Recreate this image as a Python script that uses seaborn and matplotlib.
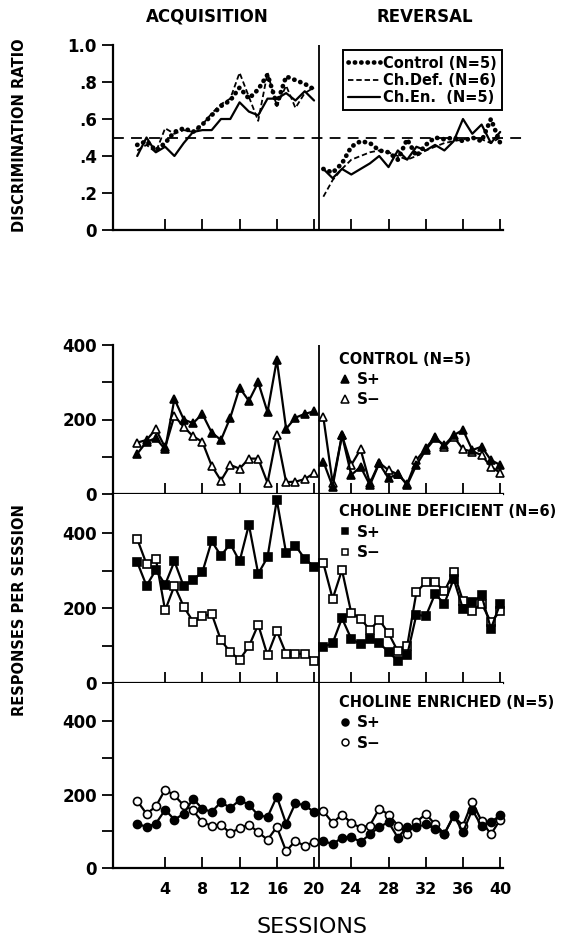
import pandas as pd
import seaborn as sns
import matplotlib.pyplot as plt
from matplotlib.lines import Line2D

# sessions: 1-20 acquisition, 21-40 reversal
sessions = list(range(1, 41))

# discrimination ratio (top panel)
ratio_control = [0.46, 0.48, 0.43, 0.47, 0.53, 0.55, 0.53, 0.57, 0.62, 0.67,
                 0.70, 0.77, 0.71, 0.76, 0.84, 0.68, 0.83, 0.81, 0.79, 0.76,
                 0.33, 0.31, 0.36, 0.45, 0.48, 0.47, 0.43, 0.42, 0.38, 0.49,
                 0.40, 0.46, 0.50, 0.49, 0.50, 0.48, 0.50, 0.48, 0.60, 0.47]
ratio_def = [0.43, 0.46, 0.42, 0.55, 0.52, 0.54, 0.53, 0.57, 0.63, 0.68,
             0.71, 0.85, 0.72, 0.59, 0.85, 0.67, 0.78, 0.66, 0.74, 0.77,
             0.18, 0.27, 0.33, 0.38, 0.40, 0.42, 0.43, 0.42, 0.40, 0.38,
             0.40, 0.43, 0.45, 0.47, 0.48, 0.49, 0.50, 0.49, 0.47, 0.50]
ratio_enr = [0.40, 0.50, 0.42, 0.45, 0.40, 0.47, 0.53, 0.54, 0.54, 0.60,
             0.60, 0.69, 0.64, 0.62, 0.71, 0.71, 0.74, 0.70, 0.75, 0.70,
             0.33, 0.28, 0.33, 0.30, 0.33, 0.36, 0.40, 0.34, 0.43, 0.38,
             0.45, 0.43, 0.46, 0.43, 0.48, 0.60, 0.52, 0.57, 0.47, 0.53]

# responses per session
control_splus = [108, 140, 150, 120, 255, 200, 190, 215, 165, 145,
                 205, 285, 250, 300, 220, 360, 175, 205, 215, 222,
                 87, 20, 158, 51, 73, 24, 82, 42, 55, 24,
                 78, 118, 149, 131, 158, 172, 118, 127, 91, 78]
control_sminus = [138, 145, 174, 125, 210, 180, 155, 140, 76, 36,
                  78, 68, 95, 95, 30, 158, 32, 33, 40, 56,
                  206, 29, 158, 78, 120, 29, 84, 64, 53, 27,
                  91, 123, 154, 127, 154, 120, 114, 105, 73, 57]
def_splus = [323, 260, 302, 263, 325, 258, 276, 296, 379, 340,
             372, 325, 423, 292, 336, 489, 347, 367, 332, 311,
             96, 107, 173, 118, 103, 118, 107, 83, 59, 74,
             183, 178, 238, 212, 278, 198, 216, 234, 145, 212]
def_sminus = [385, 318, 332, 194, 260, 204, 164, 178, 185, 114,
              83, 62, 98, 156, 74, 139, 78, 78, 78, 60,
              320, 225, 302, 187, 172, 142, 169, 133, 85, 98,
              243, 269, 269, 245, 296, 219, 192, 212, 163, 192]
enr_splus = [121, 112, 121, 159, 132, 148, 189, 162, 153, 180,
             164, 185, 173, 144, 139, 195, 121, 177, 171, 153,
             74, 65, 83, 85, 71, 92, 112, 125, 83, 112,
             112, 119, 107, 92, 144, 98, 159, 114, 125, 144]
enr_sminus = [183, 148, 168, 214, 198, 171, 157, 125, 115, 118,
              95, 109, 118, 98, 77, 112, 46, 74, 60, 71,
              155, 123, 146, 123, 110, 116, 162, 146, 116, 94,
              125, 148, 119, 94, 141, 116, 180, 128, 92, 132]

sns.set_theme(style="ticks")
plt.rcParams['font.family'] = ['DejaVu Sans']
plt.rcParams['font.weight'] = 'bold'
for key in ['text.color', 'axes.labelcolor', 'xtick.color', 'ytick.color', 'axes.edgecolor']:
    plt.rcParams[key] = 'black'

phase = ['acq' if s <= 20 else 'rev' for s in sessions]

fig = plt.figure(figsize=(5.85, 9.39), dpi=100)


def frame(top_px, bot_px):
    return [113 / 585, 1 - bot_px / 939, 390 / 585, (bot_px - top_px) / 939]


ax_top = fig.add_axes(frame(45, 230))
ax_c = fig.add_axes(frame(345, 494))
ax_d = fig.add_axes(frame(494, 683))
ax_e = fig.add_axes(frame(683, 868))

# top panel: discrimination ratio
line_styles = {
    'Control (N=5)': dict(linestyle=(0, (0.05, 1.3)), linewidth=3.4, dash_capstyle='round'),
    'Ch.Def. (N=6)': dict(linestyle=(0, (3, 1.6)), linewidth=1.3),
    'Ch.En.  (N=5)': dict(linestyle='-', linewidth=1.6),
}
ratios = {'Control (N=5)': ratio_control, 'Ch.Def. (N=6)': ratio_def, 'Ch.En.  (N=5)': ratio_enr}
for name, vals in ratios.items():
    df = pd.DataFrame({'session': sessions, 'ratio': vals, 'phase': phase})
    for ph in ['acq', 'rev']:
        sub = df[df['phase'] == ph]
        sns.lineplot(data=sub, x='session', y='ratio', color='black', ax=ax_top,
                     estimator=None, legend=False, **line_styles[name])

ax_top.axhline(0.5, xmin=0, xmax=1.06, color='black', linewidth=1.3,
               linestyle=(0, (6, 4)), clip_on=False)
ax_top.set_ylim(0, 1.0)
ax_top.set_yticks([0, 0.2, 0.4, 0.6, 0.8, 1.0])
ax_top.set_yticklabels(['0', '.2', '.4', '.6', '.8', '1.0'])

handles = [Line2D([], [], color='black', **line_styles[n]) for n in ratios]
leg = ax_top.legend(handles, list(ratios), loc='upper right', bbox_to_anchor=(1.015, 1.01),
                    fancybox=False, framealpha=1, edgecolor='black', fontsize=10.5,
                    handlelength=2.2, handletextpad=0.2, labelspacing=0.15,
                    borderpad=0.35)
leg.get_frame().set_linewidth(1.4)

# bottom panels: responses per session
panels = [
    (ax_c, 'CONTROL (N=5)', '^', control_splus, control_sminus, 400, 0.955),
    (ax_d, 'CHOLINE DEFICIENT (N=6)', 's', def_splus, def_sminus, 505, 0.945),
    (ax_e, 'CHOLINE ENRICHED (N=5)', 'o', enr_splus, enr_sminus, 505, 0.935),
]
for ax, title, mk, splus, sminus, ytop, ty in panels:
    df = pd.DataFrame({'session': sessions * 2,
                       'responses': splus + sminus,
                       'stim': ['S+'] * 40 + ['S-'] * 40,
                       'phase': phase * 2})
    ms = 6.2 if mk == '^' else 5.8
    for stim, face in [('S-', 'white'), ('S+', 'black')]:
        for ph in ['acq', 'rev']:
            sub = df[(df['stim'] == stim) & (df['phase'] == ph)]
            sns.lineplot(data=sub, x='session', y='responses', color='black', ax=ax,
                         estimator=None, legend=False, linewidth=1.6, marker=mk,
                         markersize=ms, markerfacecolor=face, markeredgecolor='black',
                         markeredgewidth=1.2, clip_on=False, zorder=3 if face == 'black' else 2)
    ax.set_ylim(0, ytop)
    ax.set_yticks([0, 100, 200, 300, 400])
    ax.set_yticklabels(['0', '', '200', '', '400'])
    hs = [Line2D([], [], linestyle='none', marker=mk, markersize=ms - 0.8, color='black',
                 markerfacecolor=f, markeredgewidth=1.1) for f in ['black', 'white']]
    ax.legend(hs, ['S+', 'S\u2212'], title=title, loc='upper left',
              bbox_to_anchor=(0.58, ty), frameon=False, fontsize=11,
              title_fontproperties={'weight': 'bold', 'size': 10.5},
              handlelength=0.7, handletextpad=0.45, labelspacing=0.35,
              borderpad=0, borderaxespad=0, alignment='left')

for ax in [ax_top, ax_c, ax_d, ax_e]:
    ax.axvline(20.5, color='black', linewidth=1.3)
    ax.set_xlim(-1.6, 40.3)
    ax.set_xticks(range(4, 41, 4))
    ax.tick_params(axis='x', direction='in', length=8, width=1.3, labelsize=11.5, pad=10)
    ax.tick_params(axis='y', direction='out', length=8, width=1.3, labelsize=12)
    ax.set_xlabel(None)
    ax.set_ylabel(None)
    for side in ['top', 'right']:
        ax.spines[side].set_visible(False)
    for side in ['left', 'bottom']:
        ax.spines[side].set_linewidth(1.6)
    if ax is not ax_e:
        ax.set_xticklabels([])

fig.text(207 / 585, 1 - 17 / 939, 'ACQUISITION', ha='center', va='center', fontsize=12)
fig.text(425 / 585, 1 - 17 / 939, 'REVERSAL', ha='center', va='center', fontsize=12)
fig.text(20 / 585, 1 - 135 / 939, 'DISCRIMINATION RATIO', rotation=90,
         ha='center', va='center', fontsize=10.5)
fig.text(20 / 585, 1 - 610 / 939, 'RESPONSES PER SESSION', rotation=90,
         ha='center', va='center', fontsize=10.5)
fig.text(312 / 585, 1 - 927 / 939, 'SESSIONS', ha='center', va='center',
         fontsize=16, fontweight='normal')

fig.savefig('out.png', dpi=100)
